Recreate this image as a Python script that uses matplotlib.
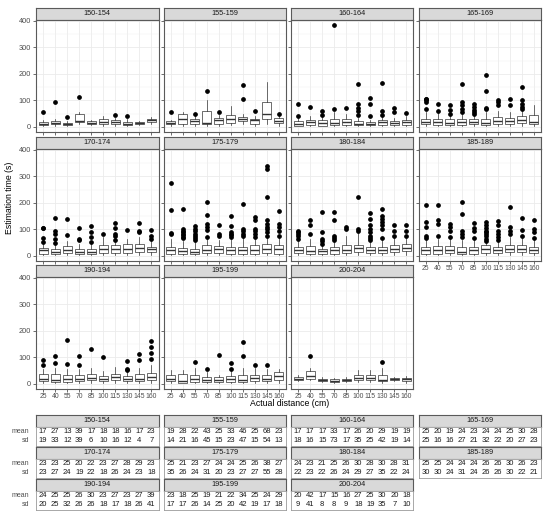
import numpy as np
import matplotlib.pyplot as plt
from matplotlib.ticker import MultipleLocator

plt.rcParams['font.family'] = ['Liberation Sans', 'DejaVu Sans']

# facet groups (height ranges) and x categories
groups = ['150-154', '155-159', '160-164', '165-169', '170-174', '175-179',
          '180-184', '185-189', '190-194', '195-199', '200-204']
distances = [25, 40, 55, 70, 85, 100, 115, 130, 145, 160]

# box statistics, one row per group
q1 = [[7, 10, 7, 20, 11, 11, 10, 9, 12, 17],
      [10, 12, 12, 12, 12, 15, 22, 12, 31, 15],
      [5, 6, 5, 6, 7, 7, 6, 9, 6, 7],
      [10, 9, 7, 9, 10, 7, 10, 10, 15, 10],
      [9, 6, 11, 9, 9, 11, 11, 11, 14, 15],
      [9, 9, 6, 11, 11, 9, 9, 9, 11, 9],
      [11, 9, 9, 9, 11, 15, 11, 11, 15, 19],
      [9, 9, 11, 6, 9, 11, 11, 15, 14, 11],
      [10, 8, 8, 10, 14, 11, 14, 11, 11, 14],
      [11, 5, 8, 8, 8, 8, 8, 10, 10, 14],
      [14, 20, 10, 8, 10, 14, 14, 10, 14, 10]]
med = [[12, 14, 10, 24, 14, 20, 17, 13, 16, 25],
       [16, 30, 22, 16, 25, 30, 30, 25, 50, 22],
       [12, 17, 15, 15, 17, 12, 12, 17, 15, 19],
       [19, 17, 16, 17, 19, 16, 22, 22, 27, 19],
       [21, 16, 24, 15, 16, 26, 26, 27, 30, 25],
       [21, 19, 15, 24, 25, 21, 21, 24, 27, 27],
       [21, 19, 19, 21, 24, 31, 21, 24, 27, 31],
       [21, 21, 24, 15, 21, 27, 24, 27, 26, 21],
       [20, 16, 17, 20, 22, 20, 26, 20, 20, 26],
       [20, 10, 17, 16, 14, 20, 16, 22, 20, 30],
       [20, 29, 15, 12, 15, 22, 24, 14, 20, 17]]
q3 = [[17, 22, 16, 49, 22, 29, 25, 19, 20, 31],
      [22, 50, 31, 62, 35, 44, 37, 31, 94, 35],
      [22, 27, 25, 31, 31, 22, 17, 25, 22, 27],
      [31, 31, 29, 31, 31, 29, 37, 35, 40, 44],
      [31, 27, 36, 25, 27, 40, 40, 46, 44, 34],
      [34, 31, 27, 40, 37, 34, 35, 40, 46, 40],
      [34, 36, 27, 34, 40, 42, 34, 34, 40, 46],
      [34, 36, 36, 34, 34, 40, 34, 40, 40, 34],
      [39, 39, 32, 32, 39, 29, 36, 29, 36, 42],
      [32, 36, 32, 26, 26, 29, 35, 35, 32, 45],
      [26, 49, 20, 17, 20, 35, 32, 35, 24, 24]]
whis_lo = [[3, 4, 3, 10, 6, 5, 4, 3, 8, 12],
           [5, 4, 5, 5, 5, 6, 10, 5, 12, 5],
           [2, 2, 2, 2, 2, 2, 2, 3, 2, 2],
           [2, 2, 2, 2, 2, 2, 2, 2, 3, 2],
           [2, 2, 2, 2, 2, 2, 2, 2, 3, 4],
           [2, 2, 2, 2, 2, 2, 2, 2, 2, 2],
           [2, 2, 2, 2, 2, 3, 2, 2, 3, 4],
           [2, 2, 2, 2, 2, 2, 2, 3, 2, 2],
           [3, 2, 2, 3, 3, 3, 4, 3, 3, 3],
           [4, 2, 2, 3, 2, 2, 2, 2, 3, 4],
           [10, 14, 6, 4, 6, 6, 8, 4, 10, 5]]
whis_hi = [[25, 30, 22, 55, 28, 40, 35, 30, 24, 38],
           [28, 55, 44, 100, 45, 78, 50, 40, 169, 45],
           [35, 42, 40, 55, 48, 35, 25, 40, 35, 40],
           [55, 55, 45, 50, 45, 55, 60, 58, 60, 81],
           [46, 45, 58, 45, 48, 70, 58, 65, 70, 55],
           [65, 58, 55, 65, 60, 65, 70, 65, 72, 70],
           [58, 65, 42, 55, 75, 85, 55, 62, 70, 70],
           [60, 65, 65, 60, 60, 52, 58, 70, 70, 60],
           [55, 60, 55, 55, 60, 50, 64, 48, 60, 70],
           [54, 51, 60, 45, 35, 50, 60, 60, 55, 57],
           [32, 60, 26, 24, 26, 51, 51, 60, 28, 30]]

# outlying points per group, one list per distance
out_150 = [[57], [95], [37], [112], [], [], [47], [40], [], []]
out_155 = [[56], [], [50], [137], [56], [], [105, 160], [59], [], [50]]
out_160 = [[40, 86], [75], [46, 60], [69, 384], [71], [44, 59, 71, 85, 162],
           [41, 86, 110], [47, 62, 166], [57, 71], [52]]
out_165 = [[69, 95, 100, 104, 107], [62, 87], [50, 65, 81], [56, 69, 81, 94, 162],
           [50, 56, 65, 75, 85], [66, 72, 137, 197], [81, 94, 102], [81, 106],
           [69, 77, 87, 102, 152], []]
out_170 = [[52, 67, 104, 107], [49, 65, 84, 95, 144], [80, 140], [61, 65, 104],
           [52, 71, 90, 112], [81], [62, 74, 84, 104, 124], [99], [90, 96, 124],
           [65, 77, 99]]
out_175 = [[81, 86, 175, 275], [66, 72, 78, 84, 90, 95, 100, 177],
           [60, 66, 74, 84, 94, 102, 112], [71, 99, 109, 121, 156, 202],
           [74, 84, 115], [72, 78, 84, 92, 112, 150], [76, 84, 96, 102, 196],
           [71, 84, 94, 102, 137, 146], [77, 90, 102, 111, 121, 134, 221, 327, 340],
           [77, 94, 109, 119, 171]]
out_180 = [[65, 75, 84, 90, 96], [81, 117, 134], [46, 56, 65, 90, 165],
           [59, 69, 77, 136, 165], [102, 111], [96, 102, 221],
           [59, 69, 77, 90, 102, 115, 140, 161], [69, 102, 115, 127, 140, 152, 177],
           [77, 96, 115], [77, 96, 115]]
out_185 = [[69, 77, 109, 127, 194], [74, 119, 134, 191], [71, 96, 109, 119],
           [71, 84, 96, 159, 205], [69, 96, 106, 124],
           [56, 65, 74, 84, 90, 96, 105, 115, 127], [61, 71, 84, 96, 115, 131],
           [84, 96, 109, 184], [77, 99, 144], [69, 90, 102, 136]]
out_190 = [[72, 89], [79, 104], [76, 167], [72, 105], [130], [102], [],
           [51, 55, 86], [89, 114], [95, 115, 141, 162]]
out_195 = [[], [], [82], [55], [111], [57, 80], [107, 157], [71], [72], []]
out_200 = [[], [105], [], [], [], [], [], [82], [], []]
outliers = [out_150, out_155, out_160, out_165, out_170, out_175,
            out_180, out_185, out_190, out_195, out_200]

# summary table below the chart
mean_tab = [[17, 27, 13, 39, 17, 18, 18, 16, 17, 23],
            [19, 28, 22, 43, 25, 33, 46, 25, 68, 23],
            [17, 17, 17, 33, 17, 26, 20, 29, 19, 19],
            [25, 20, 19, 24, 23, 24, 24, 25, 30, 28],
            [23, 23, 25, 20, 22, 23, 27, 28, 29, 23],
            [25, 21, 23, 27, 24, 24, 25, 26, 38, 27],
            [24, 23, 21, 25, 26, 30, 28, 30, 28, 31],
            [25, 25, 24, 24, 24, 26, 26, 30, 26, 23],
            [24, 25, 25, 26, 30, 23, 27, 23, 27, 39],
            [23, 18, 25, 19, 21, 22, 34, 25, 24, 29],
            [20, 42, 17, 15, 16, 27, 25, 30, 20, 18]]
sd_tab = [[19, 33, 12, 39, 6, 10, 16, 12, 4, 7],
          [14, 21, 16, 45, 15, 23, 47, 15, 54, 13],
          [18, 16, 15, 73, 17, 35, 25, 42, 19, 14],
          [25, 16, 16, 27, 21, 32, 22, 20, 27, 23],
          [23, 27, 24, 19, 22, 18, 26, 24, 23, 18],
          [35, 26, 24, 31, 20, 23, 27, 27, 55, 28],
          [22, 23, 22, 26, 24, 29, 27, 35, 22, 24],
          [30, 30, 24, 31, 24, 26, 26, 30, 22, 21],
          [20, 25, 32, 26, 26, 18, 17, 18, 26, 41],
          [17, 17, 26, 14, 25, 20, 42, 19, 17, 18],
          [9, 41, 8, 8, 9, 18, 19, 35, 7, 10]]

W, H = 550, 518
fig = plt.figure(figsize=(W / 100, H / 100), dpi=100)


def px(x0, y0, w, h):
    return [x0 / W, 1 - (y0 + h) / H, w / W, h / H]


BORDER = '#5a5a5a'
col_x = [36, 163.5, 291, 418.5]
pw = 122.5
strip_h = 11.5
plot_h = 112
row_top = [8, 137, 265]
pos = np.arange(1, 11)


def make_strip(x0, y0, label):
    s = fig.add_axes(px(x0, y0, pw, strip_h))
    s.set_facecolor('#D9D9D9')
    s.set_xticks([])
    s.set_yticks([])
    for sp in s.spines.values():
        sp.set_color(BORDER)
        sp.set_linewidth(0.8)
    s.text(0.5, 0.5, label, ha='center', va='center', fontsize=5.3,
           color='#1A1A1A', transform=s.transAxes)
    return s


n_groups = len(groups)
for i, g in enumerate(groups):
    r, c = divmod(i, 4)
    x0 = col_x[c]
    make_strip(x0, row_top[r], g)
    ax = fig.add_axes(px(x0, row_top[r] + strip_h, pw, plot_h))
    stats = []
    for j in range(10):
        stats.append(dict(q1=q1[i][j], med=med[i][j], q3=q3[i][j],
                          whislo=whis_lo[i][j], whishi=whis_hi[i][j],
                          fliers=outliers[i][j]))
    ax.bxp(stats, positions=pos, widths=0.75, showcaps=False, patch_artist=True,
           boxprops=dict(facecolor='white', edgecolor='#333333', linewidth=0.5),
           medianprops=dict(color='#333333', linewidth=1.0),
           whiskerprops=dict(color='#333333', linewidth=0.5),
           flierprops=dict(marker='o', markersize=2.4, markerfacecolor='black',
                           markeredgecolor='black', linestyle='none'))
    ax.set_xlim(0.4, 10.6)
    ax.set_ylim(-17, 405)
    ax.yaxis.set_major_locator(MultipleLocator(100))
    ax.yaxis.set_minor_locator(MultipleLocator(50))
    ax.set_xticks(pos)
    ax.grid(which='major', color='#EBEBEB', linewidth=0.6)
    ax.grid(which='minor', axis='y', color='#F2F2F2', linewidth=0.35)
    ax.set_axisbelow(True)
    for sp in ax.spines.values():
        sp.set_color(BORDER)
        sp.set_linewidth(0.8)
    ax.tick_params(which='major', length=2, width=0.5, color='#333333',
                   labelsize=5.3, labelcolor='#4D4D4D', pad=1.5)
    ax.tick_params(axis='x', labelsize=4.9)
    ax.tick_params(which='minor', length=0)
    # y labels only on first column
    if c == 0:
        ax.set_yticklabels([str(int(v)) for v in ax.get_yticks()])
    else:
        ax.tick_params(axis='y', labelleft=False)
    # x labels on the lowest panel of each column
    if i + 4 >= n_groups:
        ax.set_xticklabels([str(d) for d in distances])
    else:
        ax.tick_params(axis='x', labelbottom=False)

fig.text(290 / W, 1 - 404 / H, 'Actual distance (cm)', ha='center', va='center',
         fontsize=6.3, color='black')
fig.text(10 / W, 1 - 198 / H, 'Estimation time (s)', ha='center', va='center',
         rotation=90, fontsize=6.3, color='black')

# table of means and sds
tab_top = [415, 447, 479]
body_h = 19
for i, g in enumerate(groups):
    r, c = divmod(i, 4)
    x0 = col_x[c]
    make_strip(x0, tab_top[r], g)
    tb = fig.add_axes(px(x0, tab_top[r] + strip_h, pw, body_h))
    tb.set_xlim(0.4, 10.6)
    tb.set_ylim(0, 2)
    tb.set_xticks([])
    tb.set_yticks([])
    for sp in tb.spines.values():
        sp.set_color('#9a9a9a')
        sp.set_linewidth(0.6)
    for j in range(10):
        tb.text(pos[j], 1.5, str(mean_tab[i][j]), ha='center', va='center',
                fontsize=5.5, color='#1A1A1A')
        tb.text(pos[j], 0.55, str(sd_tab[i][j]), ha='center', va='center',
                fontsize=5.5, color='#1A1A1A')
    if c == 0:
        tb.text(-0.15, 1.5, 'mean', ha='right', va='center', fontsize=5.0,
                color='#4D4D4D')
        tb.text(-0.15, 0.55, 'sd', ha='right', va='center', fontsize=5.0,
                color='#4D4D4D')

fig.savefig('out.png', dpi=100, facecolor='white')
